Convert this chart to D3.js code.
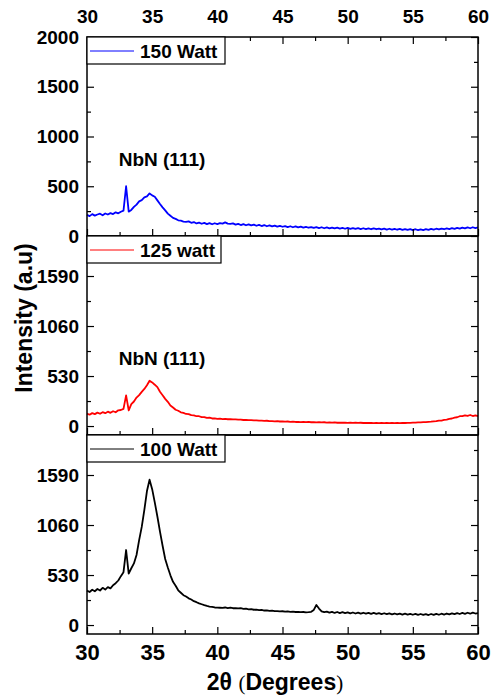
<!DOCTYPE html>
<html>
<head>
<meta charset="utf-8">
<script src="https://cdn.jsdelivr.net/npm/d3@7"></script>
<style>
  body { margin: 0; background: #fff; }
  text { font-family: "Liberation Sans", Arial, sans-serif; font-weight: bold; fill: #000; }
</style>
</head>
<body>
<div id="chart"></div>
<script>
// 2theta sampling: starts at 30 deg, one value every 0.2 deg up to 60
const twoThetaStart = 30, twoThetaStep = 0.2;

// 150 Watt (blue)
const watt150 = [
  212,200,220,205,216,224,208,226,216,230,
  220,238,228,244,255,500,245,262,292,316,
  348,360,388,398,428,408,395,358,322,288,
  258,225,203,182,172,158,154,145,142,147,
  133,140,126,134,123,132,120,130,118,128,
  120,130,124,137,124,122,127,114,122,110,
  120,108,117,106,114,103,112,100,110,98,
  106,96,105,94,102,93,100,90,98,88,
  96,86,94,84,92,83,90,81,89,80,
  88,78,86,77,85,76,84,75,82,73,
  81,72,80,71,79,70,78,69,77,68,
  76,68,75,66,74,65,73,64,72,63,
  71,62,70,61,69,60,68,59,67,60,
  69,62,71,64,73,66,75,68,77,70,
  80,72,82,74,84,76,86,78,88,80,
  86
];

// 125 watt (red), middle panel
const watt125 = [
  132,120,137,126,142,130,147,136,152,140,
  157,146,167,170,182,325,165,232,260,302,
  328,362,393,432,480,462,438,412,363,327,
  288,257,218,197,173,162,146,140,128,127,
  116,114,104,104,94,95,86,88,80,82,
  76,78,73,75,72,73,70,71,68,69,
  64,65,62,62,60,60,57,58,55,56,
  51,53,50,51,48,49,46,48,45,46,
  43,45,42,44,41,43,40,42,39,41,
  38,40,37,39,36,38,35,37,35,37,
  34,36,33,35,33,35,32,34,32,34,
  31,33,31,32,30,32,30,33,31,33,
  31,33,32,34,34,36,36,38,38,41,
  41,44,46,49,51,57,58,65,68,77,
  80,90,93,104,106,114,108,117,106,114,
  106
];

// 100 Watt (black), bottom panel
const watt100 = [
  365,350,374,358,382,366,394,376,402,388,
  422,443,472,518,560,795,545,602,653,742,
  900,1040,1220,1420,1540,1440,1300,1150,990,840,
  700,610,527,458,417,368,342,316,302,283,
  270,253,242,230,220,210,202,196,192,186,
  184,183,182,186,180,184,178,180,176,178,
  172,174,167,168,162,164,158,160,154,156,
  150,152,147,148,144,146,142,144,140,142,
  138,140,136,138,135,136,140,160,212,175,
  145,136,142,131,140,128,138,127,136,126,
  135,124,133,122,132,121,130,120,129,118,
  128,118,126,116,125,115,124,114,122,112,
  121,111,120,110,119,109,118,108,117,107,
  116,106,117,107,118,109,120,111,122,113,
  124,115,126,117,128,119,130,120,132,122,
  127
];

const xTicks = [30, 35, 40, 45, 50, 55, 60];
const xMinorTicks = [32.5, 37.5, 42.5, 47.5, 52.5, 57.5];
const topYTicks = [0, 500, 1000, 1500, 2000];
const topYMinor = [250, 750, 1250, 1750];
const lowYTicks = [0, 530, 1060, 1590];
const lowYMinor = [265, 795, 1325, 1855];

const legendNames = ["150 Watt", "125 watt", "100 Watt"];
const colors = ["#0000ff", "#ff0000", "#000000"];
const peakLabel = "NbN (111)";

const width = 492, height = 698;
const plotLeft = 87, plotRight = 478, plotTop = 37, panelH = 199;

const svg = d3.select("#chart").append("svg")
    .attr("width", width)
    .attr("height", height);

const x = d3.scaleLinear().domain([30, 60]).range([plotLeft, plotRight]);
const fmt = d3.format("d");

const panels = [
  { values: watt150, domain: [0, 2000], ticks: topYTicks, minor: topYMinor, label: true },
  { values: watt125, domain: [-95, 2014], ticks: lowYTicks, minor: lowYMinor, label: true },
  { values: watt100, domain: [-95, 2014], ticks: lowYTicks, minor: lowYMinor, label: false }
];

function styleAxis(g) {
  g.select(".domain").remove();
  g.selectAll(".tick line").attr("stroke", "#000").attr("stroke-width", 1.2);
  g.selectAll("text").style("font-size", "19px").attr("font-family", null);
}

panels.forEach(function(p, i) {
  const y0 = plotTop + i * panelH, y1 = y0 + panelH;
  const y = d3.scaleLinear().domain(p.domain).range([y1, y0]);

  // trace
  const line = d3.line()
      .x(function(d, j) { return x(twoThetaStart + j * twoThetaStep); })
      .y(function(d) { return y(d); });
  svg.append("path")
      .datum(p.values)
      .attr("fill", "none")
      .attr("stroke", colors[i])
      .attr("stroke-width", 1.8)
      .attr("stroke-linejoin", "round")
      .attr("d", line);

  // left axis
  svg.append("g").attr("transform", "translate(" + plotLeft + ",0)")
      .call(d3.axisLeft(y).tickValues(p.ticks).tickFormat(fmt).tickSize(-7).tickPadding(8))
      .call(styleAxis);
  svg.append("g").attr("transform", "translate(" + plotLeft + ",0)")
      .call(d3.axisLeft(y).tickValues(p.minor).tickSize(-4).tickFormat(""))
      .call(styleAxis);
  // right axis
  svg.append("g").attr("transform", "translate(" + plotRight + ",0)")
      .call(d3.axisRight(y).tickValues(p.ticks).tickSize(-7).tickFormat(""))
      .call(styleAxis);
  svg.append("g").attr("transform", "translate(" + plotRight + ",0)")
      .call(d3.axisRight(y).tickValues(p.minor).tickSize(-4).tickFormat(""))
      .call(styleAxis);

  // bottom ticks of each panel (pointing up)
  const bottomAxis = svg.append("g").attr("transform", "translate(0," + y1 + ")")
      .call(d3.axisBottom(x).tickValues(xTicks).tickSize(-7).tickPadding(10)
        .tickFormat(i === 2 ? fmt : ""))
      .call(styleAxis);
  if (i === 2) bottomAxis.selectAll("text").style("font-size", "22px");
  svg.append("g").attr("transform", "translate(0," + y1 + ")")
      .call(d3.axisBottom(x).tickValues(xMinorTicks).tickSize(-4).tickFormat(""))
      .call(styleAxis);

  // top axis only on the first panel
  if (i === 0) {
    svg.append("g").attr("transform", "translate(0," + y0 + ")")
        .call(d3.axisTop(x).tickValues(xTicks).tickFormat(fmt).tickSize(-7).tickPadding(14))
        .call(styleAxis);
    svg.append("g").attr("transform", "translate(0," + y0 + ")")
        .call(d3.axisTop(x).tickValues(xMinorTicks).tickSize(-4).tickFormat(""))
        .call(styleAxis);
  }

  // frame
  svg.append("rect")
      .attr("x", plotLeft).attr("y", y0)
      .attr("width", plotRight - plotLeft).attr("height", panelH)
      .attr("fill", "none").attr("stroke", "#000").attr("stroke-width", 1.5);

  // legend
  const lw = i === 1 ? 134 : 138;
  svg.append("rect")
      .attr("x", plotLeft).attr("y", y0)
      .attr("width", lw).attr("height", 27)
      .attr("fill", "#fff").attr("stroke", "#000").attr("stroke-width", 1.2);
  svg.append("line")
      .attr("x1", plotLeft + 3).attr("x2", plotLeft + 47)
      .attr("y1", y0 + 14).attr("y2", y0 + 14)
      .attr("stroke", colors[i]).attr("stroke-width", 1);
  svg.append("text")
      .attr("x", plotLeft + 53).attr("y", y0 + 21)
      .style("font-size", "19px")
      .text(legendNames[i]);

  if (p.label) {
    svg.append("text")
        .attr("x", 162).attr("y", y0 + 129)
        .attr("text-anchor", "middle")
        .style("font-size", "19px")
        .text(peakLabel);
  }
});

// axis titles
const xt = svg.append("text")
    .attr("x", 275).attr("y", 690)
    .attr("text-anchor", "middle")
    .style("font-size", "23px");
xt.append("tspan").text("2θ ");
xt.append("tspan").style("font-family", "'Liberation Serif', serif").style("font-weight", "normal").style("font-size", "21px").text("(");
xt.append("tspan").text("Degrees");
xt.append("tspan").style("font-family", "'Liberation Serif', serif").style("font-weight", "normal").style("font-size", "21px").text(")");

svg.append("text")
    .attr("transform", "translate(32,318) rotate(-90)")
    .attr("text-anchor", "middle")
    .style("font-size", "23px")
    .text("Intensity (a.u)");
</script>
</body>
</html>
